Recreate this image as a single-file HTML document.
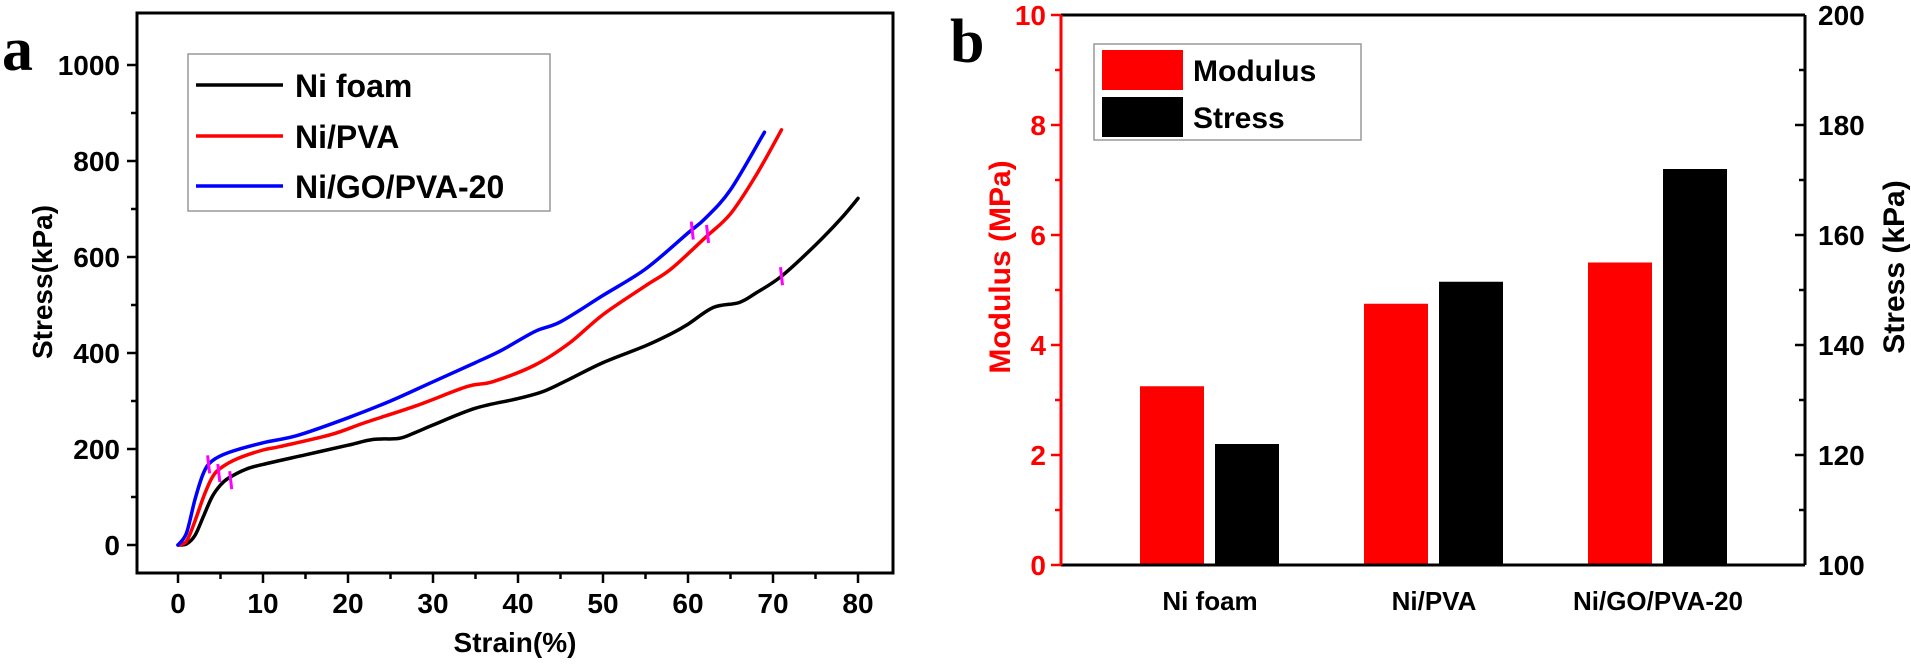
<!DOCTYPE html>
<html><head><meta charset="utf-8">
<style>
html,body{margin:0;padding:0;background:#fff;}
svg{display:block;font-family:"Liberation Sans",Arial,sans-serif;font-weight:bold;}
</style></head>
<body>
<svg id="chart" width="1911" height="665" viewBox="0 0 1911 665" xmlns="http://www.w3.org/2000/svg">
<g id="pa"></g>
<g id="pb"></g>
</svg>
<script>
// ---- Panel a data ----
const strainBlack = [0,1,2,3,4,5,6,8,10,15,20,23,26,28,30,35,40,43,46,50,55,58,60,63,66,68,71,75,78,80];
const stressBlack = [0,2,20,60,100,125,140,158,168,188,208,220,222,235,250,285,305,320,345,380,415,440,460,495,505,525,560,625,680,722];
const strainRed = [0,1,2,3,4,5,7,10,12,18,22,28,34,37,42,46,50,55,58,62,65,68,71];
const stressRed = [0,8,50,100,140,160,180,198,205,230,255,290,330,340,375,420,480,540,575,640,690,770,865];
const strainBlue = [0,1,2,3,4,6,10,14,20,25,30,35,38,42,45,50,55,60,62,65,69];
const stressBlue = [0,25,95,150,175,193,213,228,265,300,340,380,405,445,465,520,575,650,680,740,860];
const markerStrain = [3.6,4.8,6.2,60.5,62.3,71];
const markerStress = [168,150,135,655,648,560];
const xTicks = [0,10,20,30,40,50,60,70,80];
const yTicks = [0,200,400,600,800,1000];
// ---- Panel b data ----
const categories = ["Ni foam","Ni/PVA","Ni/GO/PVA-20"];
const modulusVals = [3.25,4.75,5.5];
const stressVals = [122,151.5,172];
const modTicks = [0,2,4,6,8,10];
const stressTicks = [100,120,140,160,180,200];

const NS="http://www.w3.org/2000/svg";
function mk(parent,tag,attrs,text){const e=document.createElementNS(NS,tag);for(const k in attrs)e.setAttribute(k,attrs[k]);if(text!==undefined)e.textContent=text;parent.appendChild(e);return e;}

// ---- Panel a ----
const pa=document.getElementById('pa');
const ax=v=>178+v*8.5, ay=v=>545-v*0.48;
let e;
e=mk(pa,'text',{x:2,y:70,'font-family':'Liberation Serif,serif','font-size':62,fill:'#000'},'a');


e=mk(pa,'rect',{x:137,y:13,width:756,height:560,fill:'none',stroke:'#000','stroke-width':3});


for(let v=0;v<=1050;v+=100){const maj=v%200===0;
 e=mk(pa,'line',{x1:137,x2:maj?127:131,y1:ay(v),y2:ay(v),stroke:'#000','stroke-width':2.5});
 
 }
yTicks.forEach(v=>{e=mk(pa,'text',{x:120,y:ay(v)+10,'text-anchor':'end','font-size':28,fill:'#000'},v);
 
 });
for(let v=-5;v<=85;v+=5){if(ax(v)<137||ax(v)>893)continue;const maj=v%10===0;
 e=mk(pa,'line',{x1:ax(v),x2:ax(v),y1:573,y2:maj?583:579,stroke:'#000','stroke-width':2.5});
 
 }
xTicks.forEach(v=>{e=mk(pa,'text',{x:ax(v),y:613,'text-anchor':'middle','font-size':28,fill:'#000'},v);
 
 });
e=mk(pa,'text',{x:515,y:652,'text-anchor':'middle','font-size':28,fill:'#000'},'Strain(%)');


e=mk(pa,'text',{x:0,y:0,transform:'translate(52,282) rotate(-90)','text-anchor':'middle','font-size':28,fill:'#000'},'Stress(kPa)');


function curve(xs,ys,color,name){
 const P=xs.map((x,i)=>[ax(x),ay(ys[i])]);
 let d='M'+P[0][0].toFixed(1)+','+P[0][1].toFixed(1);
 for(let i=0;i<P.length-1;i++){
  const p0=P[Math.max(0,i-1)],p1=P[i],p2=P[i+1],p3=P[Math.min(P.length-1,i+2)];
  const c1=[p1[0]+(p2[0]-p0[0])/6,p1[1]+(p2[1]-p0[1])/6];
  const c2=[p2[0]-(p3[0]-p1[0])/6,p2[1]-(p3[1]-p1[1])/6];
  d+=' C'+c1[0].toFixed(1)+','+c1[1].toFixed(1)+' '+c2[0].toFixed(1)+','+c2[1].toFixed(1)+' '+p2[0].toFixed(1)+','+p2[1].toFixed(1);
 }
 const p=mk(pa,'path',{d:d,fill:'none',stroke:color,'stroke-width':3.5,'stroke-linejoin':'round','stroke-linecap':'round'});
 
 
}
curve(strainBlack,stressBlack,'#000','ni-foam-curve');
curve(strainRed,stressRed,'#ff0000','ni-pva-curve');
curve(strainBlue,stressBlue,'#0000ff','ni-go-pva-20-curve');
markerStrain.forEach((s,i)=>{e=mk(pa,'line',{x1:ax(s)-1,x2:ax(s)+1,y1:ay(markerStress[i])-9,y2:ay(markerStress[i])+9,stroke:'#ff00ff','stroke-width':3});
 
 });
e=mk(pa,'rect',{x:188,y:54,width:362,height:157,fill:'#fff',stroke:'#999','stroke-width':1.5});


[['Ni foam','#000',85],['Ni/PVA','#ff0000',136],['Ni/GO/PVA-20','#0000ff',186]].forEach(([t,c,y])=>{
 e=mk(pa,'line',{x1:196,x2:283,y1:y,y2:y,stroke:c,'stroke-width':3.5});
 
 
 e=mk(pa,'text',{x:295,y:y+12,'font-size':32,fill:'#000'},t);
 
 });

// ---- Panel b ----
const pb=document.getElementById('pb');
const L=1061,R=1805,T=15,B=565;
const my=v=>B-v*55, sy=v=>B-(v-100)*5.5;
const centers=[1210,1434,1658];
e=mk(pb,'text',{x:950,y:62,'font-family':'Liberation Serif,serif','font-size':62,fill:'#000'},'b');


modulusVals.forEach((v,i)=>{e=mk(pb,'rect',{x:centers[i]-70,y:my(v),width:64,height:B-my(v),fill:'#ff0000'});
 
 });
stressVals.forEach((v,i)=>{e=mk(pb,'rect',{x:centers[i]+5,y:sy(v),width:64,height:B-sy(v),fill:'#000'});
 
 });
e=mk(pb,'line',{x1:L,x2:R,y1:T,y2:T,stroke:'#000','stroke-width':3});


e=mk(pb,'line',{x1:L,x2:R,y1:B,y2:B,stroke:'#000','stroke-width':3});


e=mk(pb,'line',{x1:R,x2:R,y1:T,y2:B,stroke:'#000','stroke-width':3});


e=mk(pb,'line',{x1:L,x2:L,y1:T,y2:B,stroke:'#ff0000','stroke-width':3});


for(let v=0;v<=10;v++){const maj=v%2===0;
 e=mk(pb,'line',{x1:L,x2:maj?L-10:L-6,y1:my(v),y2:my(v),stroke:'#ff0000','stroke-width':2.5});
 
 }
modTicks.forEach(v=>{e=mk(pb,'text',{x:L-15,y:my(v)+10,'text-anchor':'end','font-size':28,fill:'#ff0000'},v);
 
 });
for(let v=100;v<=200;v+=10){const maj=v%20===0;
 e=mk(pb,'line',{x1:R,x2:maj?R-10:R-6,y1:sy(v),y2:sy(v),stroke:'#000','stroke-width':2.5});
 
 }
stressTicks.forEach(v=>{e=mk(pb,'text',{x:R+13,y:sy(v)+10,'font-size':28,fill:'#000'},v);
 
 });
categories.forEach((c,i)=>{e=mk(pb,'text',{x:centers[i],y:610,'text-anchor':'middle','font-size':26,fill:'#000'},c);
 
 });
e=mk(pb,'text',{x:0,y:0,transform:'translate(1010,267) rotate(-90)','text-anchor':'middle','font-size':30,fill:'#ff0000'},'Modulus (MPa)');


e=mk(pb,'text',{x:0,y:0,transform:'translate(1904,267) rotate(-90)','text-anchor':'middle','font-size':30,fill:'#000'},'Stress (kPa)');


e=mk(pb,'rect',{x:1094,y:44,width:267,height:96,fill:'#fff',stroke:'#999','stroke-width':1.5});


[['Modulus','#ff0000',50],['Stress','#000',97]].forEach(([t,c,y])=>{
 e=mk(pb,'rect',{x:1102,y:y,width:81,height:40,fill:c});
 
 
 e=mk(pb,'text',{x:1193,y:y+31,'font-size':30,fill:'#000'},t);
 
 });
</script>
</body></html>
